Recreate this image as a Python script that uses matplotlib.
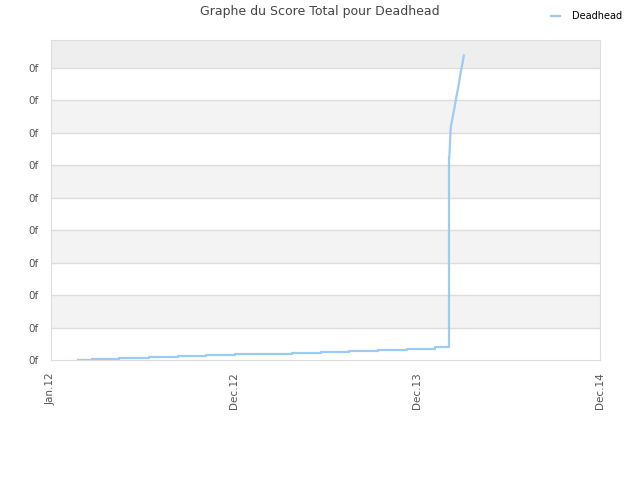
import matplotlib
matplotlib.use("Agg")
import matplotlib.pyplot as plt
import numpy as np

# x in "tick units": 0=Jan.12, 1=Dec.12, 2=Dec.13, 3=Dec.14
x_steps = [0.145, 0.223, 0.374, 0.535, 0.693, 0.847, 1.005, 1.159, 1.317, 1.476,
           1.629, 1.788, 1.946, 2.097, 2.174, 2.1755, 2.176]
y_steps = [0.0, 0.02, 0.05, 0.08, 0.11, 0.14, 0.17, 0.20, 0.23, 0.26,
           0.29, 0.32, 0.35, 0.39, 0.43, 6.23, 6.23]
x_tail = [2.176, 2.184, 2.195, 2.206, 2.217, 2.228, 2.239, 2.250, 2.255]
y_tail = [6.23, 7.19, 7.49, 7.83, 8.17, 8.51, 8.88, 9.19, 9.38]
x_ticklabels = ["Jan.12", "Dec.12", "Dec.13", "Dec.14"]
y_ticks = list(range(10))
y_top = 9.86

fig = plt.figure(figsize=(6.4, 4.8), dpi=100)
ax = fig.add_axes([0.0797, 0.25, 0.858, 0.6667])

# alternating bands
for k in range(9):
    c = "#f3f3f3" if k % 2 == 1 else "white"
    ax.axhspan(k, k + 1, color=c, zorder=0, lw=0)
ax.axhspan(9, y_top, color="#eeeeee", zorder=0, lw=0)
for yy in y_ticks[1:]:
    ax.axhline(yy, color="#dddddd", lw=1, zorder=1)

line_col = "#9ccbf6"
ax.plot(x_steps, y_steps, drawstyle="steps-post", color=line_col, lw=1.6,
        zorder=3, label="Deadhead")
ax.plot(x_tail, y_tail, color=line_col, lw=1.6, zorder=3)

ax.set_xlim(0, 3)
ax.set_ylim(0, y_top)
ax.set_xticks([0, 1, 2, 3])
ax.set_xticklabels(x_ticklabels, rotation=90, fontsize=7.5, color="#555555")
ax.set_yticks(y_ticks)
ax.set_yticklabels(["0f"] * len(y_ticks), fontsize=7.5, color="#555555")
ax.tick_params(length=0, pad=9)
for s in ax.spines.values():
    s.set_color("#dddddd")

fig.text(0.5, 0.975, "Graphe du Score Total pour Deadhead", ha="center", va="center",
         fontsize=9, color="#444444")
leg = fig.legend(loc="upper right", bbox_to_anchor=(0.985, 0.995), frameon=False,
                 fontsize=7, handlelength=0.9, handletextpad=1.2)

fig.savefig("out.png", dpi=100)
